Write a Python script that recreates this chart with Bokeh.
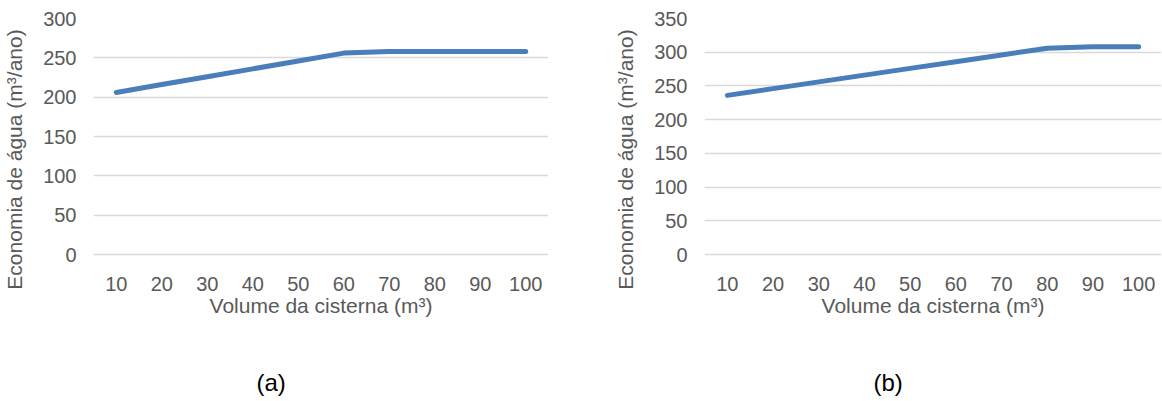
from bokeh.plotting import figure
from bokeh.layouts import row
from bokeh.models import FixedTicker, Range1d, FactorRange, Title
from bokeh.embed import file_html
from bokeh.resources import INLINE

# ---- data ----
volumes = ["10", "20", "30", "40", "50", "60", "70", "80", "90", "100"]
economy_a = [206, 216, 226, 236, 246, 256, 258, 258, 258, 258]
economy_b = [236, 246, 256, 266, 276, 286, 296, 306, 308, 308]
yticks_a = [0, 50, 100, 150, 200, 250, 300]
yticks_b = [0, 50, 100, 150, 200, 250, 300, 350]
captions = ["(a)", "(b)"]
x_title = "Volume da cisterna (m³)"
y_title = "Economia de água (m³/ano)"

FONT = "Liberation Sans"
GRAY = "#595959"
LINE = "#4a7ebb"

GRID_PX = 236      # pixel height between 0 and top gridline
PAD_PX = 46        # empty frame area below zero (centres the y title like the reference)


def make_panel(values, yticks, caption, frame_w, border_left, border_right, cap_offset):
    top = yticks[-1]
    pad = PAD_PX * top / GRID_PX
    p = figure(x_range=FactorRange(*volumes), y_range=Range1d(-pad, top),
               frame_width=frame_w, frame_height=GRID_PX + PAD_PX,
               output_backend="svg", toolbar_location=None,
               min_border_left=border_left, min_border_right=border_right,
               min_border_top=18, min_border_bottom=401 - 18 - GRID_PX - PAD_PX)
    p.outline_line_color = None
    p.line(volumes, values, line_color=LINE, line_width=5, line_cap="round", line_join="round")
    p.xgrid.grid_line_color = None
    p.ygrid.grid_line_color = "#d9d9d9"
    p.ygrid.grid_line_width = 1.5
    p.yaxis.ticker = FixedTicker(ticks=yticks)
    for ax in (p.xaxis[0], p.yaxis[0]):
        ax.axis_line_color = None
        ax.major_tick_line_color = None
        ax.minor_tick_line_color = None
        ax.major_label_text_font = FONT
        ax.major_label_text_font_size = "20px"
        ax.major_label_text_color = GRAY
        ax.axis_label_text_font = FONT
        ax.axis_label_text_font_size = "21px"
        ax.axis_label_text_font_style = "normal"
        ax.axis_label_text_color = GRAY
        ax.major_tick_out = 0
        ax.major_tick_in = 0
    p.xaxis.axis_label = x_title
    p.yaxis.axis_label = y_title
    p.yaxis.major_label_standoff = 17
    p.yaxis.axis_label_standoff = 14
    p.xaxis.major_label_standoff = 22 - PAD_PX
    p.xaxis.axis_label_standoff = 0
    cap = Title(text=caption, align="left", offset=cap_offset, standoff=95,
                text_font=FONT, text_font_size="24px", text_font_style="normal",
                text_color="black")
    p.add_layout(cap, "below")
    return p


pa = make_panel(economy_a, yticks_a, captions[0], 455, 92, 43, 163)
pb = make_panel(economy_b, yticks_b, captions[1], 457, 113, 2, 169)

layout = row(pa, pb)
open("out.html", "w").write(file_html(layout, INLINE))
